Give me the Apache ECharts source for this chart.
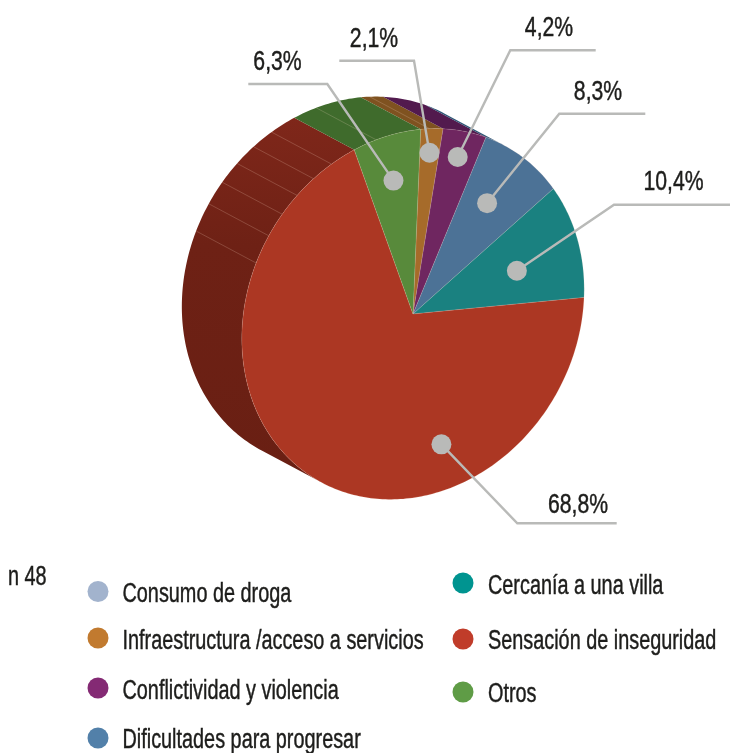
<!DOCTYPE html>
<html>
<head>
<meta charset="utf-8">
<title>Motivos</title>
<style>
  html, body { margin: 0; padding: 0; background: #fff; }
  #main { width: 730px; height: 753px; }
</style>
<script src="https://cdn.jsdelivr.net/npm/echarts@6/dist/echarts.min.js"></script>
</head>
<body>
<div id="main"></div>
<script>
// values, % of answers
const categories = ['Consumo de droga', 'Infraestructura /acceso a servicios', 'Conflictividad y violencia', 'Dificultades para progresar', 'Cercanía a una villa', 'Sensación de inseguridad', 'Otros'];
const shares = [0, 2.1, 4.2, 8.3, 10.4, 68.8, 6.3];
const sampleLabel = 'n 48';

// colours
const sliceColors = ['#9fb2cc', '#a66b2a', '#6f2660', '#4c7296', '#1a8180', '#ac3723', '#588a3b'];
const wallColors = ['#7d90aa', '#7f5220', '#521a4e', '#2f5575', '#125c5b', '#6c2015', '#3f6b2c'];
const legendColors = ['#a2b3cd', '#c17a2f', '#842a74', '#5280a9', '#009490', '#c03c2a', '#5f9c46'];

// projection of the tilted disc: centre, the axes for 0 and 90 degrees, extrusion
const centre = [413, 314];
const axisA = [7.7, -184.7];
const axisB = [171, -16.3];
const depth = [-60, -32];

// thin facet lines on the side wall, degrees from the start of the pie
const wallFacets = [-69, -60, -52.4, -45.2, -38.1, -31, -15, 3];

// legend layout: marker centre x, marker centre y, text x, text baseline
const legendLayout = [
  [98, 591.5, 122.5, 602.5],
  [98, 638, 122.5, 649.5],
  [98, 688, 122.5, 699],
  [98, 738, 122.5, 748],
  [463, 583, 488, 594],
  [463, 639, 488, 649.5],
  [463, 692, 488, 702.5]
];

// leaders, same order as categories (first has none)
const leaderLayout = [
  null,
  { dotAt: 0.5, dotR: 0.87, elbow: [414, 60.7], end: [339.3, 60.7], text: [374, 47] },
  { dotAt: 0.5, dotR: 0.86, elbow: [510.3, 50.3], end: [595.7, 50.3], text: [549, 36] },
  { dotAt: 0.443, dotR: 0.696, elbow: [559.3, 113.7], end: [645.3, 113.7], text: [598, 100] },
  { dotAt: 0.553, dotR: 0.626, elbow: [614, 204.7], end: [730, 204.7], text: [673.5, 190.5] },
  { dotAt: 0.302, dotR: 0.75, elbow: [517.3, 523.3], end: [616.7, 523.3], text: [578, 513] },
  { dotAt: 0.5, dotR: 0.75, elbow: [327.3, 84], end: [248.3, 84], text: [277.5, 70] }
];

// no condensed face is installed, so the text is squeezed sideways
const textFont = '27px "Liberation Sans", sans-serif';
const squeeze = 0.735;
const labelSqueeze = 0.785;
const baselineDrop = 6;
const textColor = '#1d1d1b';

const total = shares.reduce((a, b) => a + b, 0);

function project(deg, r) {
  const t = deg * Math.PI / 180;
  const c = Math.cos(t) * r;
  const s = Math.sin(t) * r;
  return [
    centre[0] + axisA[0] * c + axisB[0] * s,
    centre[1] + axisA[1] * c + axisB[1] * s
  ];
}

function sliceRange(i) {
  let from = 0;
  for (let k = 0; k < i; k++) from += shares[k];
  return [from / total * 360, (from + shares[i]) / total * 360];
}

function arc(from, to) {
  const pts = [];
  const steps = Math.max(1, Math.ceil(to - from));
  for (let k = 0; k <= steps; k++) pts.push(project(from + (to - from) * k / steps, 1));
  return pts;
}

const shift = p => [p[0] + depth[0], p[1] + depth[1]];

// the wall shows only between the two points where the rim runs along the extrusion
const cross = (u, v) => u[0] * v[1] - u[1] * v[0];
const tangentDeg = Math.atan(cross(axisB, depth) / cross(axisA, depth)) * 180 / Math.PI;
const wallVisible = [[0, tangentDeg], [tangentDeg + 180, 360]];

function textEl(text, x, y, scale, align) {
  return {
    type: 'text',
    x: x,
    y: y + baselineDrop,
    scaleX: scale,
    style: {
      text: text,
      font: textFont,
      fill: textColor,
      stroke: textColor,
      lineWidth: 0.45,
      align: align,
      verticalAlign: 'bottom'
    }
  };
}

const wallSeries = {
  type: 'custom',
  name: 'pared',
  coordinateSystem: 'none',
  silent: true,
  data: shares,
  renderItem: (params, api) => {
    const i = params.dataIndex;
    if (!api.value(0)) return null;
    const [from, to] = sliceRange(i);
    // the big red wall goes darker towards the bottom
    const fill = i === 5
      ? new echarts.graphic.LinearGradient(0, 0, 0, 1, [
          { offset: 0, color: '#7f271a' },
          { offset: 0.35, color: '#6e2115' },
          { offset: 1, color: '#691f13' }
        ])
      : wallColors[i];
    const children = [];
    wallVisible.forEach(range => {
      const a = Math.max(from, range[0]);
      const b = Math.min(to, range[1]);
      if (b <= a) return;
      const front = arc(a, b);
      const back = front.map(shift).reverse();
      children.push({ type: 'polygon', shape: { points: front.concat(back) }, style: { fill: fill } });
    });
    return { type: 'group', children: children };
  }
};

const facetSeries = {
  type: 'custom',
  name: 'facetas',
  coordinateSystem: 'none',
  silent: true,
  data: wallFacets,
  renderItem: (params, api) => {
    const p = project(api.value(0), 1);
    const q = shift(p);
    return {
      type: 'line',
      shape: { x1: p[0], y1: p[1], x2: q[0], y2: q[1] },
      style: { stroke: 'rgba(255,225,205,0.25)', lineWidth: 0.8 }
    };
  }
};

const sliceSeries = categories.map((name, i) => ({
  type: 'custom',
  name: name,
  coordinateSystem: 'none',
  silent: true,
  itemStyle: { color: sliceColors[i] },
  data: [shares[i]],
  renderItem: (params, api) => {
    if (!api.value(0)) return null;
    const [from, to] = sliceRange(i);
    return {
      type: 'polygon',
      shape: { points: [centre].concat(arc(from, to)) },
      style: { fill: sliceColors[i], stroke: 'rgba(255,215,195,0.2)', lineWidth: 0.7 }
    };
  }
}));

const leaderSeries = {
  type: 'custom',
  name: 'etiquetas',
  coordinateSystem: 'none',
  silent: true,
  data: shares,
  renderItem: (params, api) => {
    const i = params.dataIndex;
    const l = leaderLayout[i];
    if (!l) return null;
    const [from, to] = sliceRange(i);
    const dot = project(from + (to - from) * l.dotAt, l.dotR);
    const label = api.value(0).toFixed(1).replace('.', ',') + '%';
    return {
      type: 'group',
      children: [
        {
          type: 'polyline',
          shape: { points: [dot, l.elbow, l.end] },
          style: { stroke: '#b9bab8', lineWidth: 2.4, fill: null }
        },
        {
          type: 'circle',
          shape: { cx: dot[0], cy: dot[1], r: 10 },
          style: { fill: '#b9bab8' }
        },
        textEl(label, l.text[0], l.text[1], labelSqueeze, 'center')
      ]
    };
  }
};

// drawn by hand because the legend component can not squeeze its text
const legendSeries = {
  type: 'custom',
  name: 'leyenda',
  coordinateSystem: 'none',
  silent: true,
  data: categories.map((c, i) => i),
  renderItem: (params) => {
    const i = params.dataIndex;
    const pos = legendLayout[i];
    return {
      type: 'group',
      children: [
        { type: 'circle', shape: { cx: pos[0], cy: pos[1], r: 10.5 }, style: { fill: legendColors[i] } },
        textEl(categories[i], pos[2], pos[3], squeeze, 'left')
      ]
    };
  }
};

const myChart = echarts.init(document.getElementById('main'));
const option = {
  animation: false,
  backgroundColor: '#fff',
  graphic: [
    Object.assign(textEl(sampleLabel, 8, 585, squeeze, 'left'), { silent: true })
  ],
  series: [wallSeries, facetSeries].concat(sliceSeries, [leaderSeries, legendSeries])
};
myChart.setOption(option);
window.addEventListener('resize', function () {
  myChart.resize();
});
</script>
</body>
</html>
